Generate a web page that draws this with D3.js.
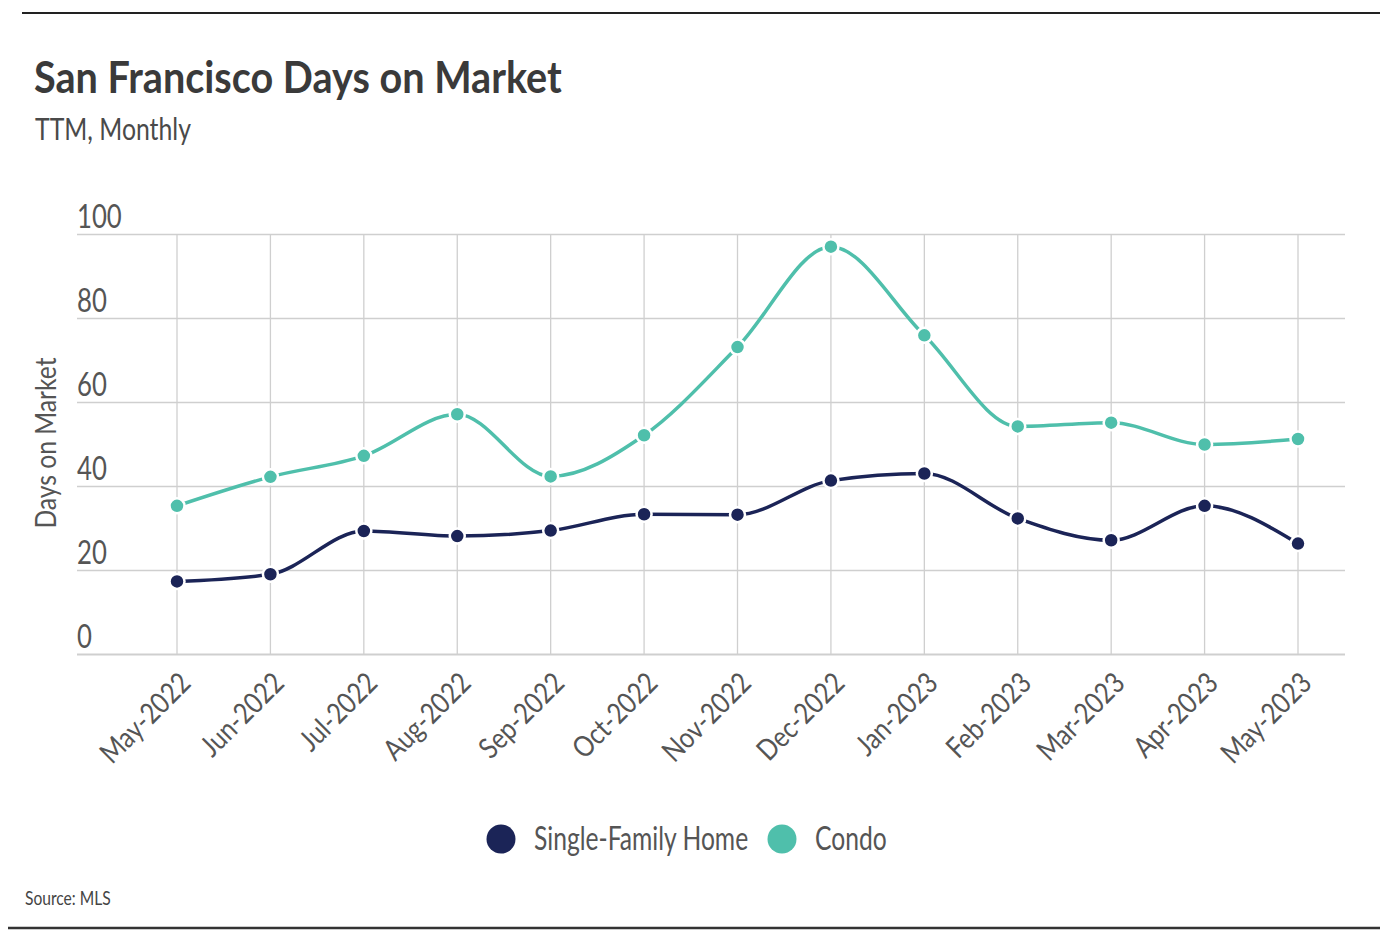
<!DOCTYPE html>
<html>
<head>
<meta charset="utf-8">
<script src="https://cdn.jsdelivr.net/npm/d3@7"></script>
<style>
html,body{margin:0;padding:0;background:#fff;}
svg{display:block;}
text{font-family:'Lato','Noto Sans',sans-serif;}
</style>
</head>
<body>
<svg id="chart" width="1394" height="944"></svg>
<script>
const months = ["May-2022","Jun-2022","Jul-2022","Aug-2022","Sep-2022","Oct-2022","Nov-2022","Dec-2022","Jan-2023","Feb-2023","Mar-2023","Apr-2023","May-2023"];
const sfhValues = [17.4,19.1,29.4,28.2,29.5,33.4,33.3,41.4,43.1,32.4,27.2,35.4,26.4];
const condoValues = [35.4,42.3,47.3,57.2,42.4,52.2,73.2,97.1,76.0,54.3,55.2,50.0,51.3];
const yTicks = [0,20,40,60,80,100];
const seriesNames = ["Single-Family Home","Condo"];
const seriesColors = ["#1b2457","#4fbfab"];

const svg = d3.select("#chart");

// narrow-looking text helper (horizontal compression)
function ntext(parent, x, y, str, size, sx, opts={}){
  const t = parent.append("text")
    .attr("transform",`translate(${x},${y})${opts.rot?` rotate(${opts.rot})`:""} scale(${sx},1)`)
    .attr("font-size",size).attr("fill",opts.fill||"#555").text(str);
  if(opts.anchor) t.attr("text-anchor",opts.anchor);
  if(opts.weight) t.attr("font-weight",opts.weight);
  if(opts.dy) t.attr("dy",opts.dy);
  return t;
}

// frame lines
svg.append("line").attr("x1",22).attr("x2",1380).attr("y1",13).attr("y2",13).attr("stroke","#222").attr("stroke-width",2);
svg.append("line").attr("x1",8).attr("x2",1380).attr("y1",928).attr("y2",928).attr("stroke","#333").attr("stroke-width",2.5);

ntext(svg,34,93,"San Francisco Days on Market",44,0.9,{weight:700,fill:"#3a3a3a"});
ntext(svg,35,140,"TTM, Monthly",31,0.8,{fill:"#4a4a4a"});

const x = d3.scalePoint().domain(months).range([177,1298]);
const y = d3.scaleLinear().domain([0,100]).range([654.5,234.5]);
const gridLeft = 77, gridRight = 1345;

const g = svg.append("g");
g.selectAll("line.h").data(yTicks).join("line").attr("class","h")
  .attr("x1",gridLeft).attr("x2",gridRight).attr("y1",d=>y(d)).attr("y2",d=>y(d))
  .attr("stroke","#cfcfcf").attr("stroke-width",d=>d===0?2:1.5);
g.selectAll("line.v").data(months).join("line").attr("class","v")
  .attr("x1",d=>x(d)).attr("x2",d=>x(d)).attr("y1",y(100)).attr("y2",y(0))
  .attr("stroke","#cfcfcf").attr("stroke-width",1.3);

yTicks.forEach(d=>ntext(g,gridLeft,y(d)-7,String(d),33,0.78));

ntext(svg,56,443,"Days on Market",29,0.85,{rot:-90,anchor:"middle"});

months.forEach(m=>ntext(g,x(m)+1,y(0)+16,m,29,0.85,{rot:-45,anchor:"end",dy:"0.7em"}));

const line = d3.line().x((d,i)=>x(months[i])).y(d=>y(d)).curve(d3.curveMonotoneX);
[sfhValues, condoValues].forEach((vals,si)=>{
  g.append("path").datum(vals).attr("d",line).attr("fill","none")
    .attr("stroke",seriesColors[si]).attr("stroke-width",3.5);
  g.selectAll(null).data(vals).join("circle")
    .attr("cx",(d,i)=>x(months[i])).attr("cy",d=>y(d)).attr("r",7.5)
    .attr("fill",seriesColors[si]).attr("stroke","#fff").attr("stroke-width",2.5);
});

const leg = svg.append("g");
const legItems = [{name:seriesNames[0],color:seriesColors[0],cx:501,tx:534},{name:seriesNames[1],color:seriesColors[1],cx:782,tx:815}];
legItems.forEach(it=>{
  leg.append("circle").attr("cx",it.cx).attr("cy",839).attr("r",14.5).attr("fill",it.color);
  ntext(leg,it.tx,850,it.name,32,0.77);
});

ntext(svg,25,905,"Source:  MLS",20,0.78,{fill:"#444"});
</script>
</body>
</html>
